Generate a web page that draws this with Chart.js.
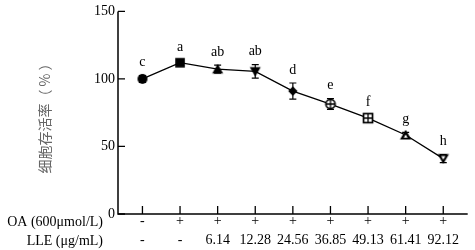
<!DOCTYPE html>
<html>
<head>
<meta charset="utf-8">
<script src="https://cdn.jsdelivr.net/npm/chart.js@4/dist/chart.umd.min.js"></script>
<style>
html,body{margin:0;padding:0;background:#fff;}
#wrap{width:475px;height:250px;}
</style>
</head>
<body>
<div id="wrap"><canvas id="c" width="475" height="250"></canvas></div>
<script>
// ---- data ----
const oaRow = ['-', '+', '+', '+', '+', '+', '+', '+', '+'];
const lleRow = ['-', '-', '6.14', '12.28', '24.56', '36.85', '49.13', '61.41', '92.12'];
const viability = [100, 112, 107.2, 105.6, 91, 81.4, 71, 58.5, 41];
const errors = [2.5, 1.5, 3, 5, 6, 4, 2, 2, 3];
const letters = ['c', 'a', 'ab', 'ab', 'd', 'e', 'f', 'g', 'h'];
const yTicks = [0, 50, 100, 150];
const rowNames = ['OA (600\u03bcmol/L)', 'LLE (\u03bcg/mL)'];
const yTitle = '细胞存活率（ % ）';

// ---- marker images ----
function mk(draw){
  const c = document.createElement('canvas');
  c.width = 14; c.height = 14;
  const g = c.getContext('2d');
  g.translate(0.5,0.5);
  g.fillStyle = '#000'; g.strokeStyle = '#000'; g.lineWidth = 1.7;
  draw(g);
  return c;
}
const markers = [
  mk(g=>{g.beginPath();g.arc(6.5,6.5,5,0,Math.PI*2);g.fill();}),
  mk(g=>{g.fillRect(1.7,1.7,9.6,9.6);}),
  mk(g=>{g.beginPath();g.moveTo(6.5,1.2);g.lineTo(12,10.8);g.lineTo(1,10.8);g.closePath();g.fill();}),
  mk(g=>{g.beginPath();g.moveTo(6.5,11.8);g.lineTo(12,2.2);g.lineTo(1,2.2);g.closePath();g.fill();}),
  mk(g=>{g.beginPath();g.moveTo(6.5,1.8);g.lineTo(11.2,6.5);g.lineTo(6.5,11.2);g.lineTo(1.8,6.5);g.closePath();g.fill();}),
  mk(g=>{g.fillStyle='#fff';g.beginPath();g.arc(6.5,6.5,4.6,0,Math.PI*2);g.fill();g.stroke();
         g.lineWidth=1.3;g.beginPath();g.moveTo(6.5,1.5);g.lineTo(6.5,11.5);g.moveTo(1.5,6.5);g.lineTo(11.5,6.5);g.stroke();}),
  mk(g=>{g.fillStyle='#fff';g.fillRect(2,2,9,9);g.strokeRect(2,2,9,9);
         g.lineWidth=1.3;g.beginPath();g.moveTo(6.5,2.2);g.lineTo(6.5,10.8);g.moveTo(2.2,6.5);g.lineTo(10.8,6.5);g.stroke();}),
  mk(g=>{g.beginPath();g.moveTo(6.5,1.2);g.lineTo(12.2,11);g.lineTo(0.8,11);g.closePath();g.fill();
         g.fillStyle='#fff';g.beginPath();g.moveTo(6.5,6);g.lineTo(8.4,9.2);g.lineTo(4.6,9.2);g.closePath();g.fill();}),
  mk(g=>{g.beginPath();g.moveTo(6.5,11.8);g.lineTo(12.2,2);g.lineTo(0.8,2);g.closePath();g.fill();
         g.fillStyle='#fff';g.beginPath();g.moveTo(6.5,7.5);g.lineTo(8.6,4);g.lineTo(4.4,4);g.closePath();g.fill();})
];

const serif = "'Liberation Serif', 'Times New Roman', serif";

const overlay = {
  id: 'overlay',
  beforeDatasetsDraw(chart){
    const ctx = chart.ctx, xs = chart.scales.x, ys = chart.scales.y, a = chart.chartArea;
    ctx.save();
    ctx.strokeStyle = '#000';
    // axes
    ctx.lineWidth = 1.5;
    ctx.beginPath();
    ctx.moveTo(a.left, a.top); ctx.lineTo(a.left, a.bottom); ctx.lineTo(a.right, a.bottom);
    ctx.stroke();
    ctx.lineWidth = 1.3;
    ctx.beginPath();
    yTicks.forEach(v=>{const y=ys.getPixelForValue(v); ctx.moveTo(a.left,y); ctx.lineTo(a.left+7,y);});
    viability.forEach((v,i)=>{const x=xs.getPixelForValue(i); ctx.moveTo(x,a.bottom); ctx.lineTo(x,a.bottom-8);});
    ctx.stroke();
    // error bars
    ctx.lineWidth = 1.2;
    ctx.beginPath();
    viability.forEach((v,i)=>{
      const x = xs.getPixelForValue(i);
      const y1 = ys.getPixelForValue(v+errors[i]), y2 = ys.getPixelForValue(v-errors[i]);
      ctx.moveTo(x,y1); ctx.lineTo(x,y2);
      ctx.moveTo(x-3.5,y1); ctx.lineTo(x+3.5,y1);
      ctx.moveTo(x-3.5,y2); ctx.lineTo(x+3.5,y2);
    });
    ctx.stroke();
    // letters
    ctx.fillStyle = '#000';
    ctx.font = '14px ' + serif;
    ctx.textAlign = 'center';
    ctx.textBaseline = 'middle';
    viability.forEach((v,i)=>{
      const x = xs.getPixelForValue(i);
      const y = ys.getPixelForValue(v+errors[i]) - 13;
      ctx.fillText(letters[i], x, y);
    });
    // row names
    ctx.font = '14px ' + serif;
    ctx.textAlign = 'right';
    ctx.fillText(rowNames[0], 103, 222);
    ctx.fillText(rowNames[1], 103, 241);
    // y title
    ctx.translate(45, 115);
    ctx.rotate(-Math.PI/2);
    ctx.fillStyle = '#666';
    ctx.textAlign = 'center';
    ctx.font = "14px 'Noto Sans CJK SC', sans-serif";
    ctx.fillText(yTitle, 0, 0);
    ctx.restore();
  }
};

new Chart(document.getElementById('c'), {
  type: 'line',
  data: {
    datasets: [{
      data: viability.map((v,i)=>({x:i, y:v})),
      borderColor: '#000',
      borderWidth: 1.3,
      pointStyle: markers,
      pointRadius: 6,
      tension: 0,
      fill: false
    }]
  },
  options: {
    responsive: false,
    animation: false,
    layout: { padding: { top: 7, right: 2, left: 0, bottom: 0 } },
    plugins: { legend: { display: false }, tooltip: { enabled: false } },
    scales: {
      x: {
        type: 'linear', min: -0.65, max: 8.65,
        grid: { display: false, drawTicks: false },
        border: { display: false },
        afterFit(s){ s.height = 36; },
        afterBuildTicks(s){ s.ticks = viability.map((v,i)=>({value:i})); },
        ticks: {
          autoSkip: false, maxRotation: 0, padding: -2,
          color: '#000',
          font: { family: serif, size: 14, lineHeight: 1.35 },
          callback: (v)=> [oaRow[v], lleRow[v]]
        }
      },
      y: {
        min: 0, max: 150,
        grid: { display: false, drawTicks: false },
        border: { display: false },
        afterFit(s){ s.width = 118; },
        afterBuildTicks(s){ s.ticks = yTicks.map(v=>({value:v})); },
        ticks: { padding: 3, color: '#000', font: { family: serif, size: 14 } }
      }
    }
  },
  plugins: [overlay]
});
</script>
</body>
</html>
